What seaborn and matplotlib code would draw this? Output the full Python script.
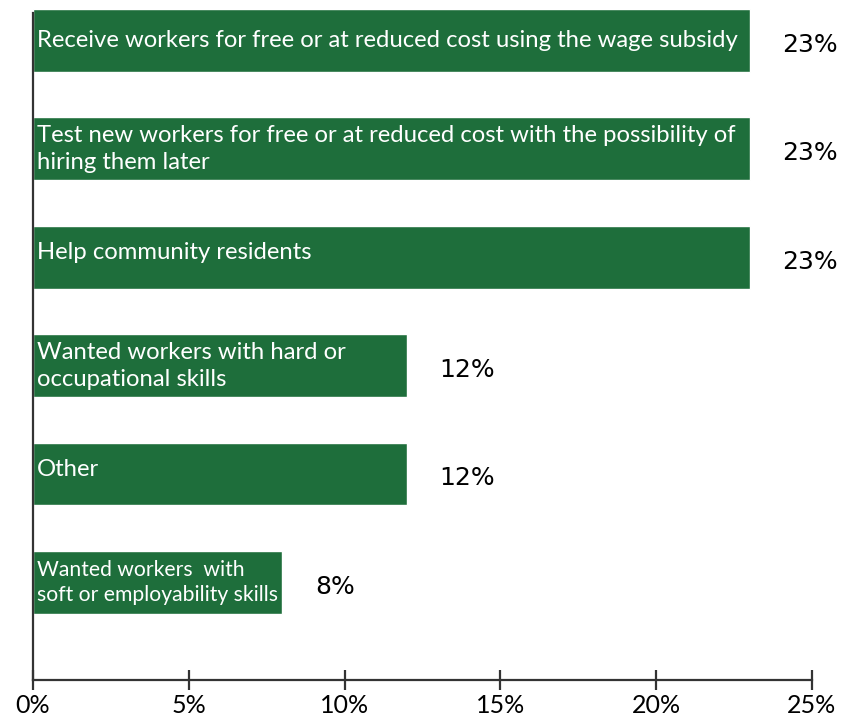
import matplotlib
matplotlib.use("Agg")
import matplotlib.pyplot as plt
import seaborn as sns
import pandas as pd

categories = [
    "Receive workers for free or at reduced cost using the wage subsidy",
    "Test new workers for free or at reduced cost with the possibility of\nhiring them later",
    "Help community residents",
    "Wanted workers with hard or\noccupational skills",
    "Other",
    "Wanted workers  with\nsoft or employability skills",
]
values = [23, 23, 23, 12, 12, 8]
value_labels = ["23%", "23%", "23%", "12%", "12%", "8%"]
tick_values = [0, 5, 10, 15, 20, 25]
tick_labels = ["0%", "5%", "10%", "15%", "20%", "25%"]

GREEN = "#1e6e3b"
AXIS = "#333333"

sns.set_theme(style="white")
plt.rcParams["font.family"] = ["Lato", "DejaVu Sans"]

df = pd.DataFrame({"reason": categories, "share": values})

fig = plt.figure(figsize=(8.56, 7.21), dpi=100)
ax = fig.add_axes([33 / 856, 1 - 680 / 721, (812 - 33) / 856, (680 - 9) / 721])

sns.barplot(data=df, y="reason", x="share", orient="h", color=GREEN,
            saturation=1, width=0.58, ax=ax)

ax.set_xlim(0, 25)
ax.set_ylim(5.9, -0.29)

# category text inside each bar, value label to the right of it
for i, (txt, v) in enumerate(zip(categories, values)):
    size = 15.2 if i == len(categories) - 1 else 17.2
    dy = -0.04 if i in (2, 4) else 0
    ax.text(0.12, i + dy, txt, color="white", fontsize=size, va="center", ha="left",
            linespacing=1.35)
    ax.text(v + 1.05, i + 0.04, value_labels[i], color="black", fontsize=18,
            va="center", ha="left", family=["DejaVu Sans"])

ax.set_xticks(tick_values)
ax.set_xticklabels(tick_labels, fontsize=18)
ax.set_yticks([])
ax.set_xlabel("")
ax.set_ylabel("")

for side in ("top", "right"):
    ax.spines[side].set_visible(False)
for side in ("left", "bottom"):
    ax.spines[side].set_color(AXIS)
    ax.spines[side].set_linewidth(1.6)
ax.spines["left"].set_bounds(5.9, -0.25)

ax.tick_params(axis="x", direction="inout", length=14, width=1.6, color=AXIS,
               bottom=True, pad=3, labelcolor="black")

fig.savefig("out.png", dpi=100)
